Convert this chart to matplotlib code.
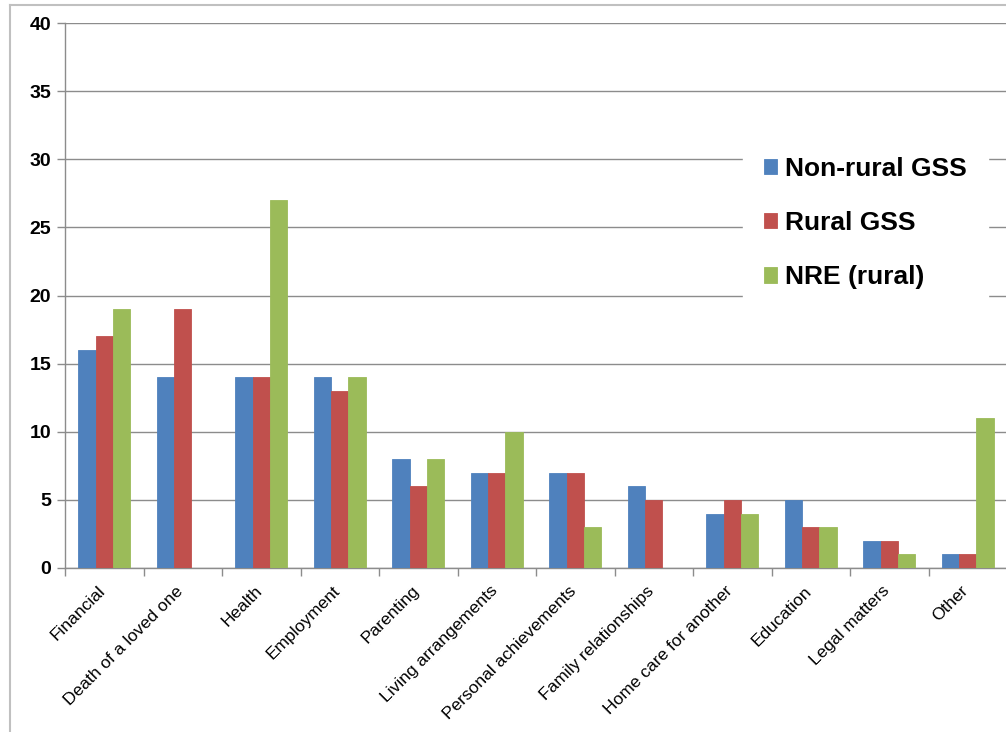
import matplotlib
matplotlib.use("Agg")
import matplotlib.pyplot as plt
import matplotlib.transforms as mtransforms
import numpy as np
from matplotlib.lines import Line2D

categories = ["Financial", "Death of a loved one", "Health", "Employment",
              "Parenting", "Living arrangements", "Personal achievements",
              "Family relationships", "Home care for another", "Education",
              "Legal matters", "Other"]
non_rural_gss = [16, 14, 14, 14, 8, 7, 7, 6, 4, 5, 2, 1]
rural_gss = [17, 19, 14, 13, 6, 7, 7, 5, 5, 3, 2, 1]
nre_rural = [19, 0, 27, 14, 8, 10, 3, 0, 4, 3, 1, 11]
series_names = ["Non-rural GSS", "Rural GSS", "NRE (rural)"]
colors = ["#4F81BD", "#C0504D", "#9BBB59"]
y_ticks = [0, 5, 10, 15, 20, 25, 30, 35, 40]

plt.rcParams["font.family"] = ["Liberation Sans", "DejaVu Sans"]

W, H = 1006, 732
fig = plt.figure(figsize=(W / 100, H / 100), dpi=100)
ax = fig.add_axes([65 / W, 1 - 568 / H, 942 / W, (568 - 23) / H])

x = np.arange(len(categories))
bw = 0.222
for i, (vals, name, c) in enumerate(zip([non_rural_gss, rural_gss, nre_rural],
                                        series_names, colors)):
    ax.bar(x + (i - 1) * bw, vals, width=bw, color=c, label=name,
           edgecolor=c, linewidth=0.6, zorder=3)

ax.set_xlim(-0.5, len(categories) - 0.5)
ax.set_ylim(0, 40)
ax.set_yticks(y_ticks)
ax.set_yticklabels([str(t) for t in y_ticks], fontsize=14, fontweight="bold")
ax.yaxis.grid(True, color="#8c8c8c", linewidth=1.0, zorder=0)
ax.set_axisbelow(True)

ax.set_xticks(np.arange(len(categories) + 1) - 0.5, minor=False)
ax.set_xticklabels([])
ax.set_xticks(x, minor=True)
ax.set_xticklabels(categories, minor=True, rotation=45, ha="right",
                   rotation_mode="anchor", fontsize=12.5)
ax.tick_params(axis="x", which="minor", length=0, pad=11)
ax.tick_params(axis="x", which="major", length=6, color="#8c8c8c", width=1)
ax.tick_params(axis="y", length=6, color="#8c8c8c", width=1, pad=4)

# nudge the slanted category labels so they end under each group
shift = mtransforms.ScaledTranslation(-7 / 100, 0, fig.dpi_scale_trans)
for lbl in ax.get_xticklabels(minor=True):
    lbl.set_transform(lbl.get_transform() + shift)

for s in ["top", "right"]:
    ax.spines[s].set_visible(False)
for s in ["left", "bottom"]:
    ax.spines[s].set_color("#8c8c8c")
    ax.spines[s].set_linewidth(1.0)

leg = ax.legend(loc="center left", bbox_to_anchor=(743 / W, 1 - 223 / H),
                bbox_transform=fig.transFigure, frameon=True, fancybox=False,
                edgecolor="white", framealpha=1.0,
                prop={"size": 19, "weight": "bold"},
                handlelength=0.5, handleheight=0.5, handletextpad=0.3,
                labelspacing=1.15, borderpad=0.8, borderaxespad=0)
leg.set_zorder(5)

# outer chart frame (top and left edges)
fig.add_artist(Line2D([10 / W, 1.0], [1 - 5 / H, 1 - 5 / H],
                      transform=fig.transFigure, color="#c0c0c0", linewidth=1.5))
fig.add_artist(Line2D([10 / W, 10 / W], [0, 1 - 5 / H],
                      transform=fig.transFigure, color="#c0c0c0", linewidth=1.5))

fig.savefig("out.png", dpi=100)
